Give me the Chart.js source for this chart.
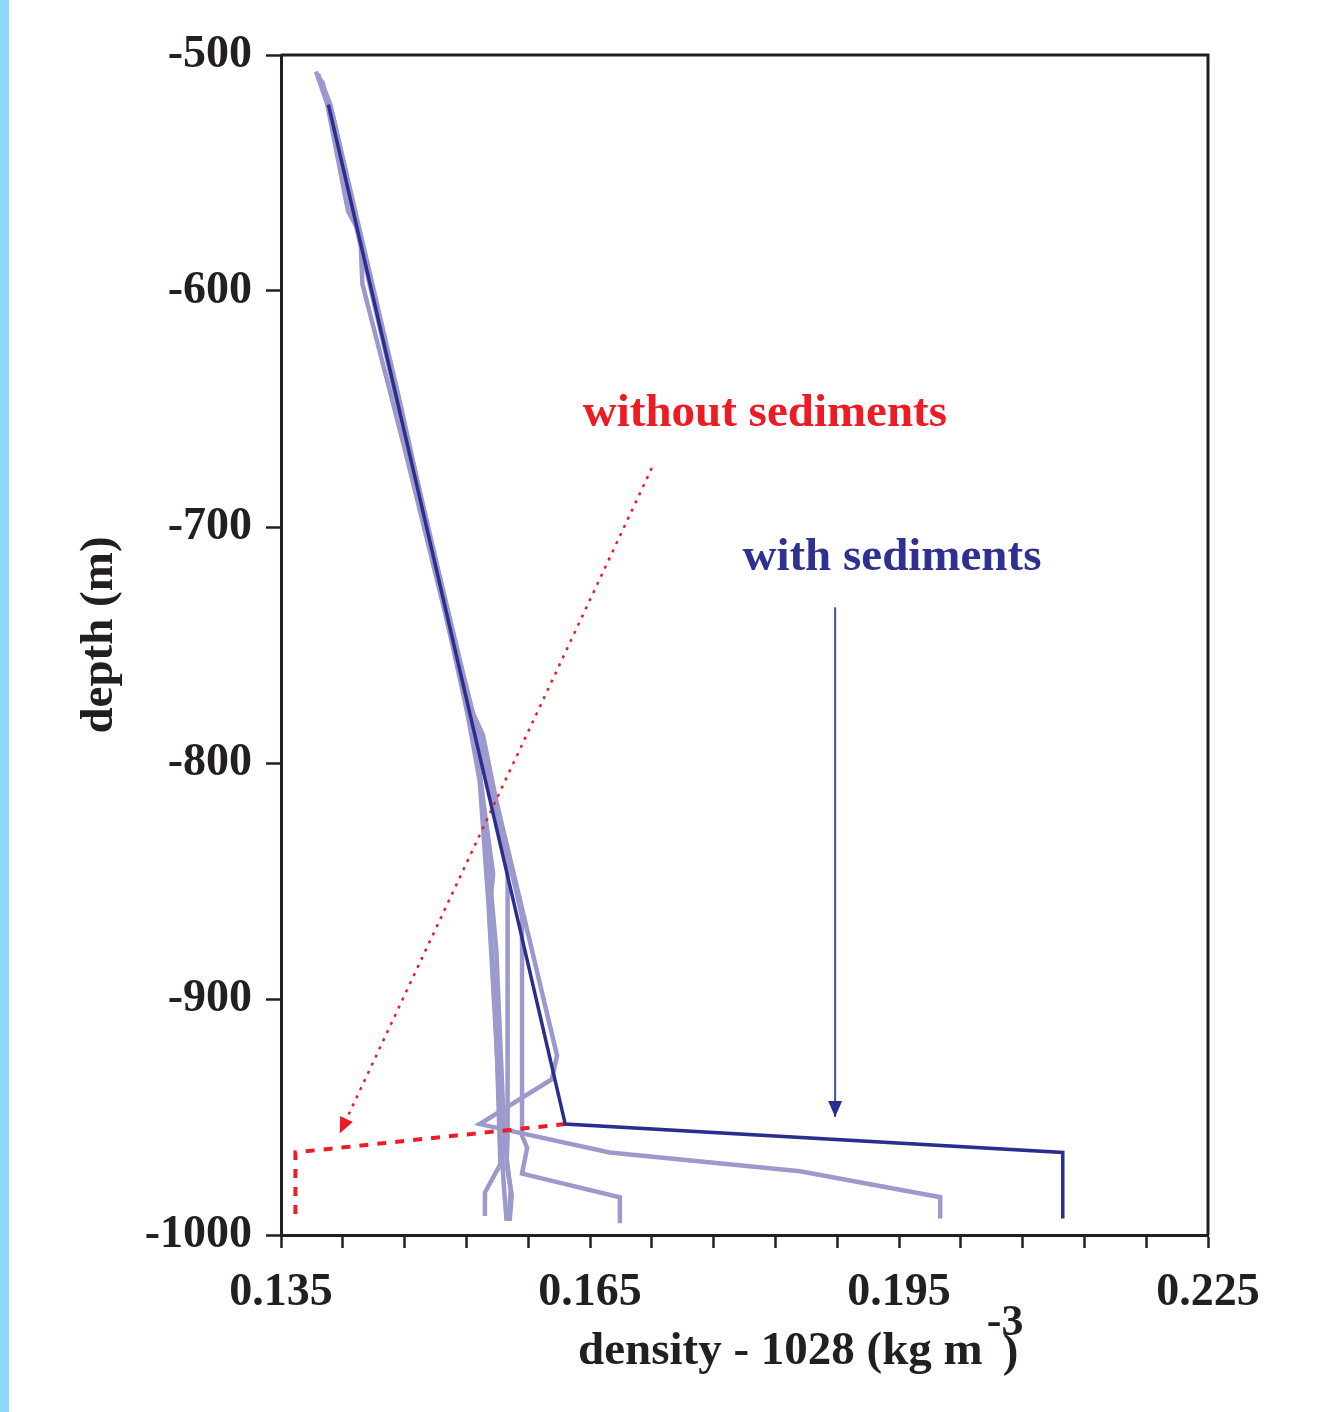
<!DOCTYPE html>
<html>
<head>
<meta charset="utf-8">
<title>density profiles</title>
<script src="https://cdn.jsdelivr.net/npm/chart.js@4.4.0/dist/chart.umd.min.js"></script>
<style>
  html, body { margin: 0; padding: 0; background: #fff; }
  #wrap { width: 1330px; height: 1412px; }
</style>
</head>
<body>
<div id="wrap"><canvas id="profileChart" width="1330" height="1412"></canvas></div>
<script>
// profile with sediments (dark) and without sediments (red dashed)
const withSedDensity = [0.1396, 0.1626, 0.2109, 0.2109]
const withSedDepth = [-521, -953, -965, -993]
const noSedDensity = [0.1626, 0.1364, 0.1364]
const noSedDepth = [-953, -965, -994]

// light profiles
const profA_density = [0.1384, 0.1395, 0.1415, 0.1427, 0.1429, 0.1469, 0.1530, 0.1546, 0.1559, 0.1582, 0.1618, 0.1613, 0.1543, 0.1669, 0.1854, 0.1990, 0.1990]
const profA_depth = [-507, -521, -566, -576, -597, -665, -773, -788, -816, -858, -924, -934, -953, -965, -973, -984, -993]
const profB_density = [0.1389, 0.1398, 0.1469, 0.1533, 0.1553, 0.1584, 0.1584, 0.1589, 0.1584, 0.1679, 0.1679]
const profB_depth = [-511, -521, -659, -773, -807, -865, -958, -963, -974, -984, -995]
const profC_density = [0.1392, 0.1466, 0.1530, 0.1548, 0.1570, 0.1570, 0.1569, 0.1574, 0.1572]
const profC_depth = [-515, -650, -769, -803, -841, -958, -970, -983, -994]
const profD_density = [0.1386, 0.1398, 0.1464, 0.1526, 0.1541, 0.1556, 0.1552, 0.1560, 0.1565, 0.1567, 0.1569]
const profD_depth = [-508, -523, -646, -769, -799, -847, -864, -926, -970, -983, -994]
const profE_density = [0.1388, 0.1400, 0.1466, 0.1527, 0.1543, 0.1558, 0.1563, 0.1548, 0.1548]
const profE_depth = [-510, -525, -648, -769, -808, -900, -970, -982, -992]
const profF_density = [0.1390, 0.1467, 0.1532, 0.1545, 0.1559, 0.1567, 0.1573, 0.1571]
const profF_depth = [-511, -655, -773, -811, -879, -960, -981, -994]

// arrows and labels
const noSedArrowDensity = [0.1710, 0.1407]
const noSedArrowDepth = [-675, -957]
const withSedArrowDensity = [0.1888, 0.1888]
const withSedArrowDepth = [-734, -950]
const labelTexts = ['without sediments', 'with sediments']
const labelDensity = [0.1643, 0.1798]
const labelDepth = [-652, -713]

// axes
const xTickValues = [0.135, 0.141, 0.147, 0.153, 0.159, 0.165, 0.171, 0.177, 0.183, 0.189, 0.195, 0.201, 0.207, 0.213, 0.219, 0.225]
const xTickLabels = ['0.135', '0.165', '0.195', '0.225']
const yTickValues = [-500, -600, -700, -800, -900, -1000]

const AXIS = '#231f20'
const DARK = '#2b2e8e'
const LIGHT = '#9c9acc'
const RED = '#ed1c24'
const FONT = '"Liberation Serif", "Times New Roman", serif'

function toPoints(xs, ys) {
  return xs.map((x, i) => ({ x: x, y: ys[i] }))
}

function lightSet(xs, ys) {
  return {
    data: toPoints(xs, ys),
    borderColor: LIGHT,
    borderWidth: 4.5,
    pointRadius: 0,
    showLine: true,
    borderJoinStyle: 'miter'
  }
}

const sidePlugin = {
  id: 'side',
  beforeDraw(chart) {
    const ctx = chart.ctx
    ctx.save()
    ctx.fillStyle = '#fff'
    ctx.fillRect(0, 0, chart.width, chart.height)
    ctx.fillStyle = '#8fd8f8'
    ctx.fillRect(0, 0, 9, chart.height)
    ctx.restore()
  }
}

const decorPlugin = {
  id: 'decor',
  afterDatasetsDraw(chart) {
    const ctx = chart.ctx
    const x = chart.scales.x
    const y = chart.scales.y

    // arrow heads
    chart.data.datasets.forEach((ds, i) => {
      if (!ds.arrowHead) return
      const pts = chart.getDatasetMeta(i).data
      const a = pts[pts.length - 2]
      const b = pts[pts.length - 1]
      const ang = Math.atan2(b.y - a.y, b.x - a.x)
      ctx.save()
      ctx.translate(b.x, b.y)
      ctx.rotate(ang)
      ctx.fillStyle = ds.arrowHead
      ctx.beginPath()
      ctx.moveTo(0, 0)
      ctx.lineTo(-16, -7)
      ctx.lineTo(-16, 7)
      ctx.closePath()
      ctx.fill()
      ctx.restore()
    })

    // curve labels
    ctx.save()
    ctx.font = 'bold 47px ' + FONT
    ctx.textBaseline = 'middle'
    ctx.textAlign = 'left'
    labelTexts.forEach((t, i) => {
      ctx.fillStyle = i === 0 ? RED : '#2e3192'
      ctx.fillText(t, x.getPixelForValue(labelDensity[i]), y.getPixelForValue(labelDepth[i]))
    })
    ctx.restore()
  },
  afterDraw(chart) {
    const ctx = chart.ctx
    const area = chart.chartArea
    ctx.save()
    // frame top and right
    ctx.strokeStyle = AXIS
    ctx.lineWidth = 3
    ctx.beginPath()
    ctx.moveTo(area.left, area.top)
    ctx.lineTo(area.right, area.top)
    ctx.lineTo(area.right, area.bottom)
    ctx.stroke()

    // axis titles
    ctx.fillStyle = AXIS
    ctx.font = 'bold 47px ' + FONT
    ctx.textBaseline = 'middle'
    ctx.textAlign = 'center'
    ctx.save()
    ctx.translate(100, 635)
    ctx.rotate(-Math.PI / 2)
    ctx.fillText('depth (m)', 0, 0)
    ctx.restore()

    ctx.textAlign = 'left'
    const main = 'density - 1028 (kg m'
    const x0 = 578
    ctx.fillText(main, x0, 1352)
    const w = ctx.measureText(main).width
    ctx.font = 'bold 44px ' + FONT
    ctx.fillText('-3', x0 + w + 4, 1324)
    ctx.font = 'bold 47px ' + FONT
    ctx.fillText(')', x0 + w + 20, 1354)
    ctx.restore()
  }
}

new Chart(document.getElementById('profileChart'), {
  type: 'scatter',
  data: {
    datasets: [
      {
        data: toPoints(withSedDensity, withSedDepth),
        borderColor: DARK,
        borderWidth: 3.5,
        pointRadius: 0,
        showLine: true
      },
      {
        data: toPoints(noSedDensity, noSedDepth),
        borderColor: RED,
        borderWidth: 4,
        borderDash: [9, 9],
        pointRadius: 0,
        showLine: true
      },
      {
        data: toPoints(noSedArrowDensity, noSedArrowDepth),
        borderColor: RED,
        borderWidth: 2.5,
        borderDash: [3, 6],
        pointRadius: 0,
        showLine: true,
        arrowHead: RED
      },
      {
        data: toPoints(withSedArrowDensity, withSedArrowDepth),
        borderColor: '#4a4da0',
        borderWidth: 2,
        pointRadius: 0,
        showLine: true,
        arrowHead: DARK
      },
      lightSet(profA_density, profA_depth),
      lightSet(profB_density, profB_depth),
      lightSet(profC_density, profC_depth),
      lightSet(profD_density, profD_depth),
      lightSet(profE_density, profE_depth),
      lightSet(profF_density, profF_depth)
    ]
  },
  options: {
    responsive: false,
    animation: false,
    devicePixelRatio: 1,
    layout: {
      padding: { top: 55, right: 122, left: 0, bottom: 0 }
    },
    plugins: {
      legend: { display: false },
      tooltip: { enabled: false }
    },
    scales: {
      x: {
        type: 'linear',
        position: 'bottom',
        min: 0.135,
        max: 0.225,
        afterBuildTicks: (scale) => {
          scale.ticks = xTickValues.map(v => ({ value: v }))
        },
        afterFit: (scale) => {
          scale.height = 177
          scale.paddingLeft = 0
          scale.paddingRight = 0
        },
        ticks: {
          autoSkip: false,
          maxRotation: 0,
          padding: 18,
          color: AXIS,
          font: { family: FONT, size: 46, weight: 'bold' },
          callback: function (value) {
            const s = value.toFixed(3)
            return xTickLabels.includes(s) ? s : ''
          }
        },
        grid: {
          drawOnChartArea: false,
          tickLength: 13,
          tickWidth: 2.5,
          tickColor: AXIS
        },
        border: { color: AXIS, width: 3 }
      },
      y: {
        type: 'linear',
        min: -1000,
        max: -500,
        afterBuildTicks: (scale) => {
          scale.ticks = yTickValues.map(v => ({ value: v }))
        },
        afterFit: (scale) => {
          scale.width = 281
          scale.paddingTop = 0
          scale.paddingBottom = 0
        },
        ticks: {
          padding: 14,
          color: AXIS,
          font: { family: FONT, size: 46, weight: 'bold' },
          callback: (value) => String(value)
        },
        grid: {
          drawOnChartArea: false,
          tickLength: 15,
          tickWidth: 2.5,
          tickColor: AXIS
        },
        border: { color: AXIS, width: 3 }
      }
    }
  },
  plugins: [sidePlugin, decorPlugin]
})
</script>
</body>
</html>
